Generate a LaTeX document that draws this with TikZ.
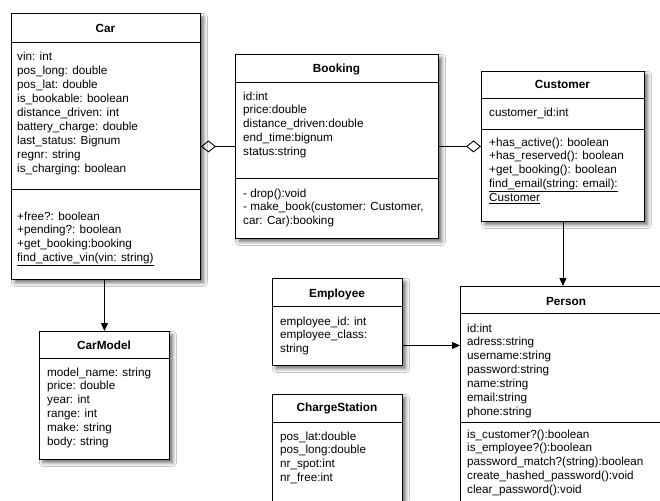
\documentclass[tikz,border=0pt]{standalone}
\usepackage{fontspec}
\setmainfont{Liberation Sans}
\usetikzlibrary{arrows.meta,shadows.blur,calc}

\begin{document}
\begin{tikzpicture}[x=1pt,y=-1pt,
  cls/.style={draw=black, line width=0.9pt, fill=white, rectangle, inner sep=0pt,
    anchor=north west,
    blur shadow={shadow xshift=3.5pt, shadow yshift=-3.5pt, shadow blur radius=3.5pt, shadow opacity=55}},
  sepline/.style={line width=0.9pt},
  txt/.style={inner sep=0pt, anchor=base west, font=\fontsize{11.7}{13.9}\selectfont},
  ttl/.style={inner sep=0pt, anchor=base, font=\fontsize{11.8}{14}\selectfont\bfseries},
  link/.style={line width=0.9pt},
  agg/.style={link, {Diamond[open, length=15pt, width=12pt, line width=0.9pt]}-},
  dep/.style={link, -{Triangle[length=8pt, width=7pt]}}
]
\fill[white] (0,0) rectangle (660,500);
\useasboundingbox (0,0) rectangle (660,500);
\clip (0,0) rectangle (660,500);

% ---------- class boxes ----------
\node[cls, minimum width=189pt, minimum height=266pt] (car) at (11,13) {};
\node[cls, minimum width=130pt, minimum height=128pt] (carmodel) at (39,331) {};
\node[cls, minimum width=203pt, minimum height=184pt] (booking) at (235,54) {};
\node[cls, minimum width=163pt, minimum height=150pt] (customer) at (481,71) {};
\node[cls, minimum width=130pt, minimum height=87pt] (employee) at (272,278) {};
\node[cls, minimum width=130pt, minimum height=130pt] (station) at (272,394) {};
\node[cls, minimum width=212pt, minimum height=240pt] (person) at (460,286) {};

% ---------- compartment separators ----------
\draw[sepline] (11,42) -- (200,42);
\draw[sepline] (11,189) -- (200,189);
\draw[sepline] (39,358) -- (169,358);
\draw[sepline] (235,82) -- (438,82);
\draw[sepline] (235,178) -- (438,178);
\draw[sepline] (481,98) -- (644,98);
\draw[sepline] (481,129) -- (644,129);
\draw[sepline] (272,306) -- (402,306);
\draw[sepline] (272,422) -- (402,422);
\draw[sepline] (460,313) -- (672,313);
\draw[sepline] (460,422) -- (672,422);

% ---------- titles ----------
\node[ttl] (car-t) at (105.5,32.5) {Car};
\node[ttl] (carmodel-t) at (104,349.5) {CarModel};
\node[ttl] (booking-t) at (336.5,72.5) {Booking};
\node[ttl] (customer-t) at (562.5,88.5) {Customer};
\node[ttl] (employee-t) at (337,297.5) {Employee};
\node[ttl] (station-t) at (337,411.5) {ChargeStation};
\node[ttl] (person-t) at (566,305.5) {Person};

% ---------- Car ----------
\foreach \s [count=\i from 0] in {vin: int, pos\_long: double, pos\_lat: double,
  is\_bookable: boolean, distance\_driven: int, battery\_charge: double,
  last\_status: Bignum, regnr: string, is\_charging: boolean}
  \node[txt] (car-a\i) at (17,{61+13.9*\i}) {\s};
\foreach \s [count=\i from 0] in {+free?: boolean, +pending?: boolean,
  +get\_booking:booking, \underline{find\_active\_vin(vin: string)}}
  \node[txt] (car-m\i) at (17,{220+13.9*\i}) {\s};

% ---------- CarModel ----------
\foreach \s [count=\i from 0] in {model\_name: string, price: double, year: int,
  range: int, make: string, body: string}
  \node[txt] (carmodel-a\i) at (47,{376+13.9*\i}) {\s};

% ---------- Booking ----------
\foreach \s [count=\i from 0] in {id:int, price:double, distance\_driven:double,
  end\_time:bignum, status:string}
  \node[txt] (booking-a\i) at (243,{100+13.9*\i}) {\s};
\foreach \s [count=\i from 0] in {- drop():void, {- make\_book(customer: Customer,},
  car: Car):booking}
  \node[txt] (booking-m\i) at (243,{197+13.9*\i}) {\s};

% ---------- Customer ----------
\node[txt] (customer-a0) at (489,117) {customer\_id:int};
\foreach \s [count=\i from 0] in {+has\_active(): boolean, +has\_reserved(): boolean,
  +get\_booking(): boolean, \underline{find\_email(string: email):}, \underline{Customer}}
  \node[txt] (customer-m\i) at (489,{146+13.9*\i}) {\s};

% ---------- Employee ----------
\foreach \s [count=\i from 0] in {employee\_id: int, employee\_class:, string}
  \node[txt] (employee-a\i) at (280,{325+13.9*\i}) {\s};

% ---------- ChargeStation ----------
\foreach \s [count=\i from 0] in {pos\_lat:double, pos\_long:double, nr\_spot:int, nr\_free:int}
  \node[txt] (station-a\i) at (280,{440+13.9*\i}) {\s};

% ---------- Person ----------
\foreach \s [count=\i from 0] in {id:int, adress:string, username:string, password:string,
  name:string, email:string, phone:string}
  \node[txt] (person-a\i) at (467,{332+13.9*\i}) {\s};
\foreach \s [count=\i from 0] in {is\_customer?():boolean, is\_employee?():boolean,
  password\_match?(string):boolean, create\_hashed\_password():void, clear\_password():void}
  \node[txt] (person-m\i) at (467,{438+13.9*\i}) {\s};

% ---------- relations ----------
\draw[agg] (car.east) -- (booking.west);
\draw[agg] (customer.west) -- (booking.east);
\draw[dep] (customer.south) -- (customer.south |- person.north);
\draw[dep] (carmodel.north |- car.south) -- (carmodel.north);
\coordinate (emp-out) at ([yshift=-23.5pt]employee.east);
\draw[dep] (emp-out) -- (emp-out -| person.west);
\end{tikzpicture}
\end{document}
